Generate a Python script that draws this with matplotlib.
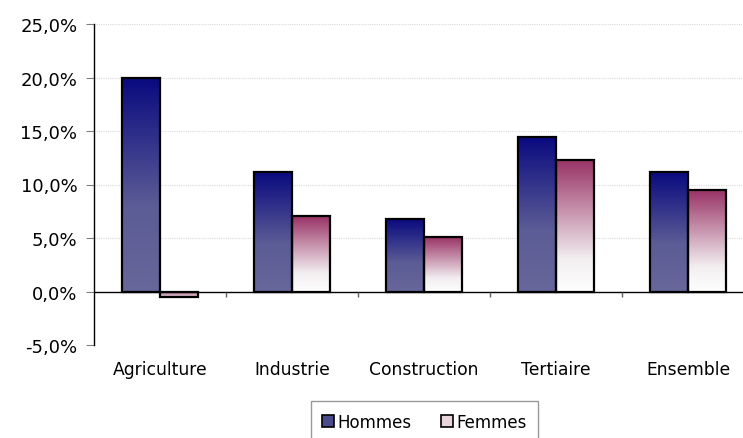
import numpy as np
import matplotlib
matplotlib.use("Agg")
import matplotlib.pyplot as plt
from matplotlib.colors import LinearSegmentedColormap
from matplotlib.patches import Patch

# data
categories = ["Agriculture", "Industrie", "Construction", "Tertiaire", "Ensemble"]
hommes = [20.0, 11.2, 6.8, 14.4, 11.2]
femmes = [-0.5, 7.1, 5.1, 12.3, 9.5]
series_names = ["Hommes", "Femmes"]
yticks = [-5, 0, 5, 10, 15, 20, 25]

plt.rcParams["font.family"] = ["DejaVu Sans"]

cmap_h = LinearSegmentedColormap.from_list("h", [(0, "#0a0a80"), (0.6, "#5c5c96"), (1, "#67679b")])
cmap_f = LinearSegmentedColormap.from_list("f", [(0, "#993366"), (0.75, "#f2eef0"), (1, "#ffffff")])

fig = plt.figure(figsize=(7.43, 4.39), dpi=100)
W, H = 743, 439
ax = fig.add_axes([94 / W, 1 - 346 / H, 660 / W, 321 / H])

x = np.arange(len(categories))
bw = 0.29

def gradient_bars(xpos, vals, cmap):
    bars = ax.bar(xpos, vals, bw, facecolor="none", edgecolor="black", linewidth=1.6, zorder=3)
    grad = np.linspace(0, 1, 256).reshape(-1, 1)
    for b, v in zip(bars, vals):
        x0, y0 = b.get_x(), b.get_y()
        w, h = b.get_width(), b.get_height()
        top, bot = max(y0, y0 + h), min(y0, y0 + h)
        g = grad if v >= 0 else grad * 0.35 + 0.25
        im = ax.imshow(g, cmap=cmap, aspect="auto", extent=[x0, x0 + w, bot, top],
                       origin="upper", zorder=2, interpolation="bilinear", vmin=0, vmax=1)
        im.set_clip_path(b)
    return bars

gradient_bars(x - bw / 2, hommes, cmap_h)
gradient_bars(x + bw / 2, femmes, cmap_f)

ax.set_xlim(-0.5, len(categories) - 0.5)
ax.set_ylim(-5, 25)
ax.set_yticks(yticks)
ax.set_yticklabels([f"{v:.1f}%".replace(".", ",") for v in yticks], fontsize=13)
ax.yaxis.grid(True, color="#dadada", linestyle=(0, (1, 1)), linewidth=0.8, zorder=0)
ax.tick_params(axis="y", length=6, color="#808080", pad=6)

ax.set_xticks(x)
ax.set_xticklabels(categories, fontsize=12.3)
ax.tick_params(axis="x", length=0, pad=11)

for s in ["top", "right", "bottom"]:
    ax.spines[s].set_visible(False)
ax.spines["left"].set_color("black")
ax.spines["left"].set_linewidth(1.0)

# zero line with small ticks between categories
ax.axhline(0, color="black", linewidth=1.0, zorder=4)
ax.vlines(x[:-1] + 0.5, -0.55, 0, color="#606060", linewidth=1.0, zorder=4)

handles = [Patch(facecolor="#4a4a8c", edgecolor="black", linewidth=1.2),
           Patch(facecolor="#e8d4dc", edgecolor="black", linewidth=1.2)]
leg = fig.legend(handles, series_names, loc="upper center", bbox_to_anchor=(424.5 / W, 1 - 402 / H),
                 ncol=2, fontsize=12, frameon=True, fancybox=False, handlelength=0.7,
                 handleheight=0.7, handletextpad=0.2, columnspacing=1.8, borderpad=0.7,
                 borderaxespad=0)
leg.get_frame().set_edgecolor("#808080")
leg.get_frame().set_linewidth(1.0)

fig.savefig("out.png", dpi=100)
